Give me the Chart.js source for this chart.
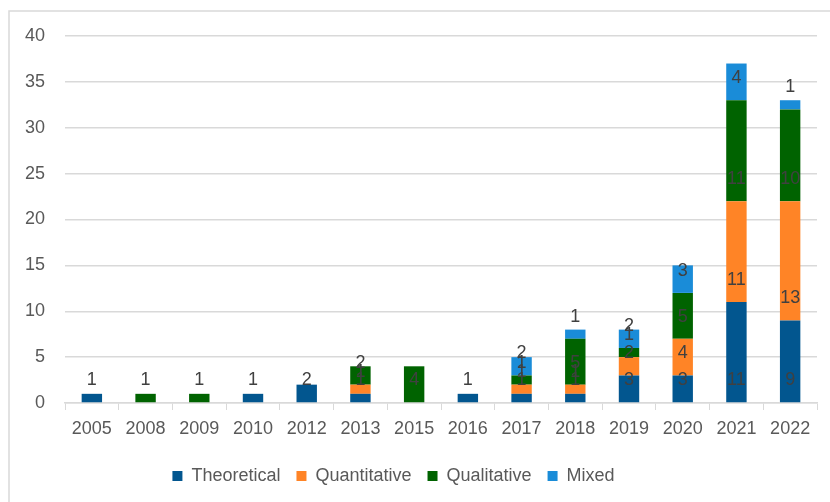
<!DOCTYPE html>
<html>
<head>
<meta charset="utf-8">
<script src="https://cdn.jsdelivr.net/npm/chart.js@4"></script>
<style>
  html, body { margin: 0; padding: 0; background: #ffffff; }
  #wrap { width: 830px; height: 502px; position: relative; }
</style>
</head>
<body>
<div id="wrap"><canvas id="chart" width="830" height="502"></canvas></div>
<script>
// Publications per year, split by research approach
const years = ['2005', '2008', '2009', '2010', '2012', '2013', '2015', '2016', '2017', '2018', '2019', '2020', '2021', '2022'];
const theoretical  = [1, 0, 0, 1, 2, 1, 0, 1, 1, 1, 3, 3, 11, 9];
const quantitative = [0, 0, 0, 0, 0, 1, 0, 0, 1, 1, 2, 4, 11, 13];
const qualitative  = [0, 1, 1, 0, 0, 2, 4, 0, 1, 5, 1, 5, 11, 10];
const mixed        = [0, 0, 0, 0, 0, 0, 0, 0, 2, 1, 2, 3, 4, 1];
const yTicks = [0, 5, 10, 15, 20, 25, 30, 35, 40];

const FONT = "'Liberation Sans', Arial, sans-serif";
const AXIS_GREY = '#595959';
const LINE_GREY = '#D9D9D9';

// Thin frame along the top and left edges of the chart
const framePlugin = {
  id: 'frame',
  beforeDraw(chart) {
    const ctx = chart.ctx;
    ctx.save();
    ctx.fillStyle = '#ffffff';
    ctx.fillRect(0, 0, chart.width, chart.height);
    ctx.strokeStyle = LINE_GREY;
    ctx.lineWidth = 1.5;
    ctx.beginPath();
    ctx.moveTo(chart.width, 11);
    ctx.lineTo(9, 11);
    ctx.lineTo(9, chart.height);
    ctx.stroke();
    ctx.restore();
  }
};

// Segment value labels, placed a fixed distance above each segment's base
const segmentLabels = {
  id: 'segmentLabels',
  afterDatasetsDraw(chart) {
    const ctx = chart.ctx;
    ctx.save();
    ctx.font = '18px ' + FONT;
    ctx.fillStyle = '#404040';
    ctx.textAlign = 'center';
    ctx.textBaseline = 'middle';
    chart.data.datasets.forEach((ds, di) => {
      const meta = chart.getDatasetMeta(di);
      meta.data.forEach((bar, i) => {
        const v = ds.data[i];
        if (!v) return;
        ctx.fillText(String(v), bar.x, bar.base - 22);
      });
    });
    ctx.restore();
  }
};

// Shift the centred legend row slightly left
const legendShift = {
  id: 'legendShift',
  afterLayout(chart) {
    const lg = chart.legend;
    if (!lg) return;
    lg.left -= 20;
    lg.right -= 20;
    if (lg.legendHitBoxes) lg.legendHitBoxes.forEach(h => { h.left -= 20; });
  }
};

new Chart(document.getElementById('chart'), {
  type: 'bar',
  data: {
    labels: years,
    datasets: [
      { label: 'Theoretical',  data: theoretical,  backgroundColor: '#02568F' },
      { label: 'Quantitative', data: quantitative, backgroundColor: '#FF8426' },
      { label: 'Qualitative',  data: qualitative,  backgroundColor: '#006300' },
      { label: 'Mixed',        data: mixed,        backgroundColor: '#1A8CD8' }
    ]
  },
  options: {
    responsive: false,
    animation: false,
    devicePixelRatio: 1,
    layout: { padding: { left: 10, right: 13, top: 36, bottom: 7 } },
    datasets: { bar: { categoryPercentage: 1, barPercentage: 0.38 } },
    scales: {
      x: {
        stacked: true,
        grid: { drawOnChartArea: false, drawTicks: true, tickLength: 7, color: LINE_GREY, offset: true },
        border: { display: true, color: LINE_GREY, width: 1.5 },
        ticks: { font: { family: FONT, size: 18 }, color: AXIS_GREY, padding: 8, maxRotation: 0, autoSkip: false },
        afterFit(scale) { scale.height = 48; }
      },
      y: {
        stacked: true,
        min: 0,
        max: 40,
        afterBuildTicks(scale) { scale.ticks = yTicks.map(v => ({ value: v })); },
        grid: { color: LINE_GREY, lineWidth: 1.5, drawTicks: false },
        border: { display: false },
        ticks: { font: { family: FONT, size: 18 }, color: AXIS_GREY, padding: 20 },
        afterFit(scale) { scale.width = 55; }
      }
    },
    plugins: {
      legend: {
        position: 'bottom',
        labels: {
          font: { family: FONT, size: 18 },
          color: AXIS_GREY,
          boxWidth: 10,
          boxHeight: 10,
          padding: 16
        }
      },
      tooltip: { enabled: false }
    }
  },
  plugins: [framePlugin, segmentLabels, legendShift]
});
</script>
</body>
</html>
